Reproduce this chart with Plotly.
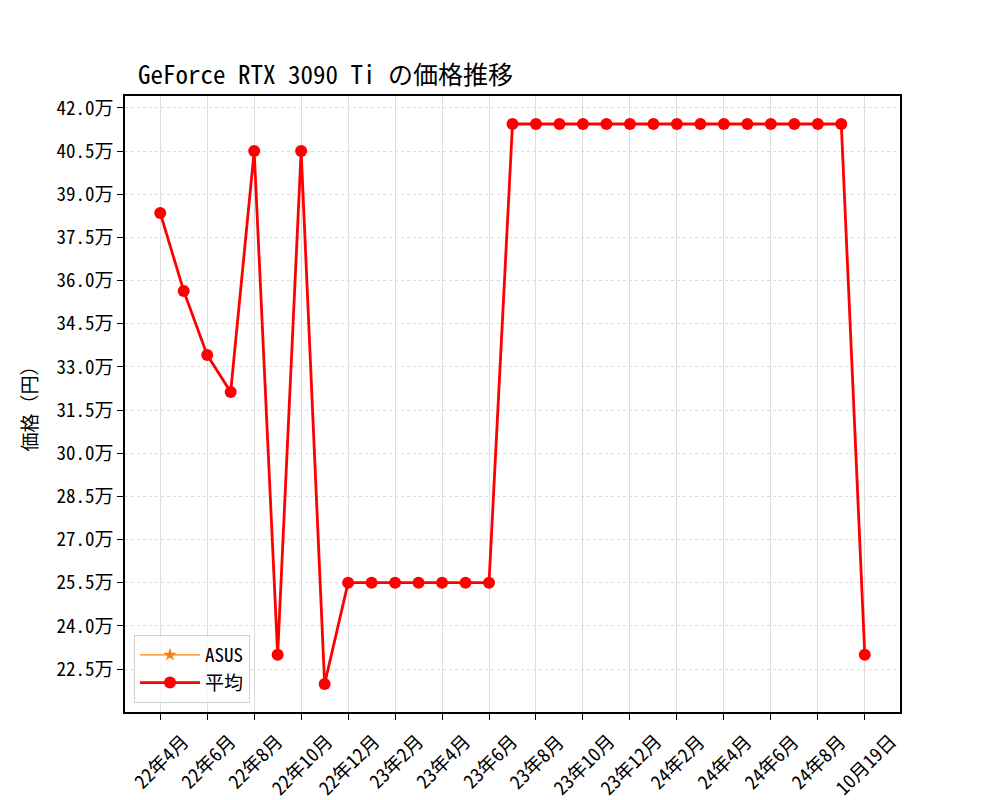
import plotly.graph_objects as go

months = ["22年4月", "22年5月", "22年6月", "22年7月", "22年8月", "22年9月", "22年10月", "22年11月",
          "22年12月", "23年1月", "23年2月", "23年3月", "23年4月", "23年5月", "23年6月", "23年7月",
          "23年8月", "23年9月", "23年10月", "23年11月", "23年12月", "24年1月", "24年2月", "24年3月",
          "24年4月", "24年5月", "24年6月", "24年7月", "24年8月", "24年9月", "10月19日"]
avg_price = [383500, 356400, 334100, 321300, 405000, 230000, 405000, 219800,
             255000, 255000, 255000, 255000, 255000, 255000, 255000, 414400,
             414400, 414400, 414400, 414400, 414400, 414400, 414400, 414400,
             414400, 414400, 414400, 414400, 414400, 414400, 230000]
asus_price = [None] * len(months)

y_tick_vals = [225000, 240000, 255000, 270000, 285000, 300000, 315000, 330000,
               345000, 360000, 375000, 390000, 405000, 420000]
y_tick_text = ["22.5万", "24.0万", "25.5万", "27.0万", "28.5万", "30.0万", "31.5万", "33.0万",
               "34.5万", "36.0万", "37.5万", "39.0万", "40.5万", "42.0万"]
x_tick_labels = ["22年4月", "22年6月", "22年8月", "22年10月", "22年12月", "23年2月", "23年4月",
                 "23年6月", "23年8月", "23年10月", "23年12月", "24年2月", "24年4月", "24年6月",
                 "24年8月", "10月19日"]

x_idx = list(range(len(months)))
x_tick_vals = [months.index(l) for l in x_tick_labels]

FONT = "Noto Sans Mono CJK JP, Noto Sans CJK JP, monospace"

fig = go.Figure()
fig.add_trace(go.Scatter(
    x=x_idx, y=asus_price, name="ASUS", mode="lines+markers",
    line=dict(color="#ff7f0e", width=1.2), marker=dict(symbol="star", size=10, color="#ff7f0e"),
))
fig.add_trace(go.Scatter(
    x=x_idx, y=avg_price, name="平均", mode="lines+markers",
    line=dict(color="#ff0000", width=2.8), marker=dict(symbol="circle", size=12, color="#ff0000"),
))

n = len(months)
ymin, ymax = min(avg_price), max(avg_price)
pad = (ymax - ymin) * 0.05

# x tick labels: rotated, centred on ticks (matplotlib style)
for tv, tl in zip(x_tick_vals, x_tick_labels):
    fig.add_annotation(x=tv, xref="x", y=-0.02, yref="paper", text=tl, showarrow=False,
                       textangle=-45, xanchor="center", yanchor="top",
                       font=dict(size=19, family=FONT, color="black"))

fig.update_layout(
    width=1000, height=800,
    paper_bgcolor="white", plot_bgcolor="white",
    margin=dict(l=117, r=108, t=88, b=96),
    font=dict(family=FONT, size=19, color="black"),
    title=dict(text="GeForce RTX 3090 Ti の価格推移", x=130 / 1000, xanchor="left",
               y=1 - 67 / 800, yanchor="middle", font=dict(size=25, family=FONT)),
    showlegend=True,
    legend=dict(x=0.0116, y=0.0146, xanchor="left", yanchor="bottom",
                bgcolor="rgba(255,255,255,0.8)", bordercolor="#d0d0d0", borderwidth=1,
                font=dict(size=19, family=FONT), tracegroupgap=0, itemwidth=60),
)
fig.update_xaxes(
    range=[-0.05 * (n - 1), (n - 1) * 1.05],
    tickmode="array", tickvals=x_tick_vals, ticktext=x_tick_labels, showticklabels=False,
    showline=True, linecolor="black", linewidth=1.5, mirror=True,
    ticks="outside", ticklen=6, tickcolor="black", tickwidth=1.3,
    showgrid=True, gridcolor="#dddddd", gridwidth=1, zeroline=False,
    automargin=False,
)
fig.update_yaxes(
    range=[ymin - pad, ymax + pad],
    tickmode="array", tickvals=y_tick_vals, ticktext=y_tick_text,
    showline=True, linecolor="black", linewidth=1.5, mirror=True,
    ticks="outside", ticklen=6, tickcolor="black", tickwidth=1.3,
    showgrid=True, gridcolor="#dedede", gridwidth=1, griddash="dot", zeroline=False,
    title=dict(text="価格（円）", font=dict(size=19), standoff=14),
    tickfont=dict(size=19), automargin=False,
)

fig.write_html("out.html")
